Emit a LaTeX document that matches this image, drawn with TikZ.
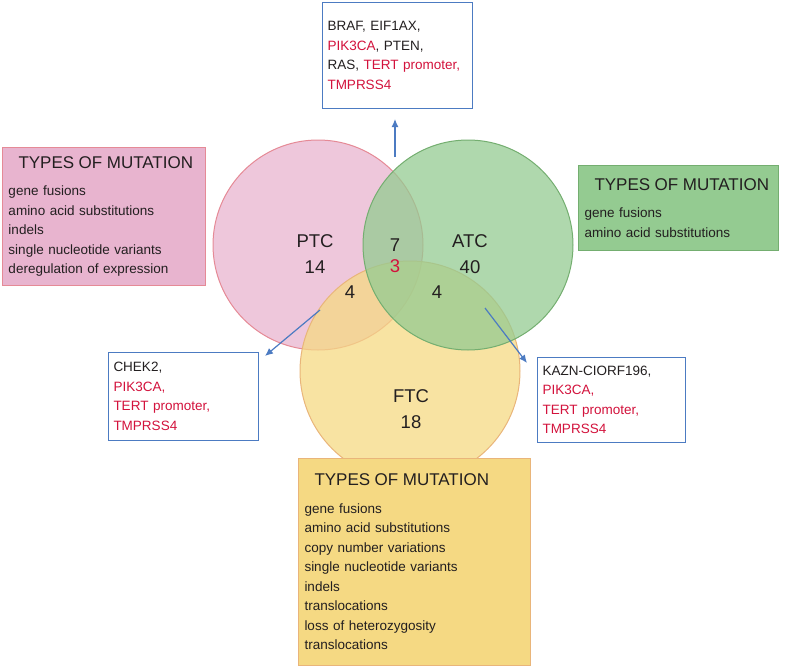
\documentclass[tikz,border=0pt]{standalone}
\usepackage{fontspec}
\setmainfont{Liberation Sans}
\usetikzlibrary{positioning,arrows.meta}
\definecolor{pinkf}{HTML}{E8B4CF}
\definecolor{pinkd}{HTML}{E58A96}
\definecolor{greenf}{HTML}{94CB91}
\definecolor{greend}{HTML}{74AE70}
\definecolor{yellowf}{HTML}{F5D983}
\definecolor{yellowd}{HTML}{E9B57A}
\definecolor{genred}{HTML}{D3123C}
\definecolor{boxblue}{HTML}{4C7BC2}
\definecolor{txt}{HTML}{231F20}
\tikzset{
  setcirc/.style = {circle, draw, line width=1pt, fill opacity=0.75},
  numlbl/.style = {font=\fontsize{18.5}{26}\selectfont, text=txt, align=center},
  typebox/.style = {draw, line width=1pt, align=left, anchor=north west, inner xsep=6pt, inner ysep=4pt,
    font=\fontsize{13.5}{19.5}\selectfont, text=txt},
  genebox/.style = {draw=boxblue, line width=1pt, fill=white, align=left, anchor=north west,
    inner xsep=5pt, inner ysep=4pt, font=\fontsize{13.5}{19.5}\selectfont, text=txt},
  arr/.style = {draw=boxblue, line width=1.2pt, -{Latex[length=8pt,width=7pt]}},
}
\newcommand{\hd}{{\fontsize{17}{22}\selectfont\hspace*{10pt}TYPES OF MUTATION}\\[8pt]}
\newcommand{\rd}[1]{\textcolor{genred}{#1}}
\begin{document}
\begin{tikzpicture}[x=1pt,y=-1pt]
\useasboundingbox (0,0) rectangle (785,669);
% sets
\node[setcirc, draw=pinkd, fill=pinkf, minimum size=210] (ptc) at (318,245) {};
\node[setcirc, draw=yellowd, fill=yellowf, minimum size=220] (ftc) at (410,371) {};
\node[setcirc, draw=greend, fill=greenf, minimum size=210] (atc) at (468,245) {};
% counts
\node[numlbl] (nptc) at (315,254) {PTC\\14};
\node[numlbl] (natc) at (470,254) {ATC\\40};
\node[numlbl] (nftc) at (411,409) {FTC\\18};
\node[numlbl] (n7) at (395,245) {7};
\node[numlbl, text=genred] (n3) at (395,266) {3};
\node[numlbl] (n4a) at (350,292) {4};
\node[numlbl] (n4b) at (437,292) {4};
% mutation types
\node[typebox, draw=pinkd, fill=pinkf, text width=191, minimum height=138] (tptc) at (2,147)
  {\hd gene fusions\\amino acid substitutions\\indels\\single nucleotide variants\\deregulation of expression};
\node[typebox, draw=greend, fill=greenf, text width=188, minimum height=85] (tatc) at (578,165)
  {\hd gene fusions\\amino acid substitutions};
\node[typebox, draw=yellowd, fill=yellowf, text width=220, minimum height=207] (tftc) at (298,458)
  {\hd gene fusions\\amino acid substitutions\\copy number variations\\single nucleotide variants\\indels\\translocations\\loss of heterozygosity\\translocations};
% genes
\node[genebox, text width=140, minimum height=106] (gtop) at (322,2)
  {BRAF, EIF1AX,\\\rd{PIK3CA}, PTEN,\\RAS, \rd{TERT promoter,}\\\rd{TMPRSS4}};
\node[genebox, text width=140, minimum height=88] (gleft) at (108,352)
  {CHEK2,\\\rd{PIK3CA,}\\\rd{TERT promoter,}\\\rd{TMPRSS4}};
\node[genebox, text width=138, minimum height=85] (gright) at (537,357)
  {KAZN-CIORF196,\\\rd{PIK3CA,}\\\rd{TERT promoter,}\\\rd{TMPRSS4}};
% pointers
\coordinate (ptop) at (395,157);
\coordinate (pleft) at (320,310);
\coordinate (pright) at (485,308);
\draw[arr] (ptop) -- ([yshift=-10]gtop.south -| ptop);
\draw[arr] (pleft) -- ([xshift=6,yshift=-4]gleft.north east);
\draw[arr] (pright) -- ([xshift=-10,yshift=-6]gright.north west);
\end{tikzpicture}
\end{document}
